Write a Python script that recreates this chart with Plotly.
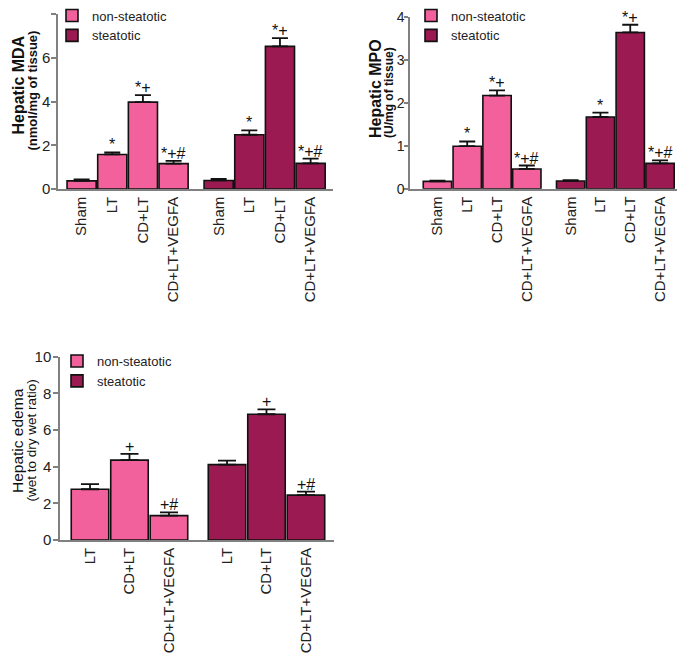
import plotly.graph_objects as go

# ---------------- data ----------------
groups4 = ["Sham", "LT", "CD+LT", "CD+LT+VEGFA"]
groups3 = ["LT", "CD+LT", "CD+LT+VEGFA"]
series_names = ["non-steatotic", "steatotic"]

mda_non = [0.37, 1.58, 3.97, 1.16]
mda_non_err = [0.07, 0.09, 0.32, 0.13]
mda_ste = [0.39, 2.48, 6.52, 1.17]
mda_ste_err = [0.07, 0.20, 0.38, 0.22]
mda_non_sig = ["", "*", "*+", "*+#"]
mda_ste_sig = ["", "*", "*+", "*+#"]
mda_title = ["Hepatic MDA", "(nmol/mg of tissue)"]

mpo_non = [0.17, 0.99, 2.17, 0.46]
mpo_non_err = [0.02, 0.11, 0.12, 0.08]
mpo_ste = [0.18, 1.67, 3.64, 0.59]
mpo_ste_err = [0.02, 0.10, 0.18, 0.07]
mpo_non_sig = ["", "*", "*+", "*+#"]
mpo_ste_sig = ["", "*", "*+", "*+#"]
mpo_title = ["Hepatic MPO", "(U/mg of tissue)"]

edema_non = [2.77, 4.36, 1.33]
edema_non_err = [0.28, 0.34, 0.18]
edema_ste = [4.11, 6.86, 2.45]
edema_ste_err = [0.22, 0.27, 0.19]
edema_non_sig = ["", "+", "+#"]
edema_ste_sig = ["", "+", "+#"]
edema_title = ["Hepatic edema", "(wet to dry wet ratio)"]

# ---------------- style ----------------
PINK = "#F2619B"
DARK = "#9C1A52"
AXIS = "#808080"
FONT = "Liberation Sans, Arial, sans-serif"
GROUP_GAP = 0.47
W, H = 677, 649

fig = go.Figure()


def positions(n, group):
    return [i + group * (n + GROUP_GAP) for i in range(n)]


def add_panel(idx, cats, non, non_err, ste, ste_err, non_sig, ste_sig, legend):
    xa = "x" if idx == 1 else f"x{idx}"
    ya = "y" if idx == 1 else f"y{idx}"
    n = len(cats)
    for g, (vals, errs, sig, color, name) in enumerate([
        (non, non_err, non_sig, PINK, series_names[0]),
        (ste, ste_err, ste_sig, DARK, series_names[1]),
    ]):
        xs = positions(n, g)
        fig.add_trace(go.Bar(
            x=xs, y=vals, width=0.95, name=name, legend=legend,
            xaxis=xa, yaxis=ya,
            marker=dict(color=color, line=dict(color="#111111", width=1.6)),
            error_y=dict(type="data", array=errs, arrayminus=[0] * n,
                         symmetric=False, color="#111111", thickness=1.8,
                         width=8 if n == 4 else 9),
        ))
        for x, v, e, s in zip(xs, vals, errs, sig):
            if s:
                fig.add_annotation(x=x, y=v + e, xref=xa, yref=ya, text=s,
                                   showarrow=False, yanchor="bottom", yshift=-3,
                                   font=dict(size=16, color="#111111", family=FONT))
    ticks = positions(n, 0) + positions(n, 1)
    return ticks, cats + cats


t1, l1 = add_panel(1, groups4, mda_non, mda_non_err, mda_ste, mda_ste_err,
                   mda_non_sig, mda_ste_sig, "legend")
t2, l2 = add_panel(2, groups4, mpo_non, mpo_non_err, mpo_ste, mpo_ste_err,
                   mpo_non_sig, mpo_ste_sig, "legend2")
t3, l3 = add_panel(3, groups3, edema_non, edema_non_err, edema_ste, edema_ste_err,
                   edema_non_sig, edema_ste_sig, "legend3")


def px_x(a, b):
    return [a / W, b / W]


def px_y(top, bottom):
    return [1 - bottom / H, 1 - top / H]


def xaxis(domain, ticks, labels, rng, anchor):
    return dict(domain=domain, anchor=anchor, range=rng, tickmode="array",
                tickvals=ticks, ticktext=labels, tickangle=-90, showline=True,
                linecolor=AXIS, linewidth=1.5, ticks="", showgrid=False,
                zeroline=False, tickfont=dict(size=15, color="#222222", family=FONT))


def yaxis(domain, rng, dtick, anchor, ticklen, standoff, size):
    return dict(domain=domain, anchor=anchor, range=rng, dtick=dtick,
                showline=True, linecolor=AXIS, linewidth=1.5, ticks="outside",
                ticklen=ticklen, tickwidth=1.5, tickcolor=AXIS, showgrid=False,
                ticklabelstandoff=standoff,
                zeroline=False, tickfont=dict(size=size, color="#222222", family=FONT))


def axis_title(lines, xs, ys, sizes, bold):
    for text, x, y, s in zip(lines, xs, ys, sizes):
        fig.add_annotation(xref="paper", yref="paper", x=x / W, y=1 - y / H,
                           text=f"<b>{text}</b>" if bold else text,
                           textangle=-90, showarrow=False,
                           xanchor="center", yanchor="middle",
                           font=dict(size=s, color="#111111", family=FONT))


fig.update_layout(
    width=W, height=H, margin=dict(l=0, r=0, t=0, b=0, autoexpand=False),
    paper_bgcolor="white", plot_bgcolor="white", barmode="overlay",
    font=dict(family=FONT, color="#111111"),
    xaxis=xaxis(px_x(50, 325), t1, l1, [-0.77, 8.2], "y"),
    yaxis=yaxis(px_y(6, 181), [0, 8], 2, "x", 5, -2, 15),
    xaxis2=xaxis(px_x(402, 675), t2, l2, [-0.92, 8.24], "y2"),
    yaxis2=yaxis(px_y(9, 180.7), [0, 4], 1, "x2", 4, -3, 14),
    xaxis3=xaxis(px_x(52, 326), t3, l3, [-0.76, 6.18], "y3"),
    yaxis3=yaxis(px_y(348.7, 532), [0, 10], 2, "x3", 5, -1, 15),
)

# y-axis titles (pixel positions relative to the figure)
axis_title(mda_title, [9.5, 23.5], [77, 83], [16, 13], True)
axis_title(mpo_title, [367.5, 381.5], [80.5, 84.5], [16, 12], True)
axis_title(edema_title, [9, 23], [433, 432.5], [15.5, 13.5], False)

legend_style = dict(font=dict(size=13, color="#222222", family=FONT),
                    bgcolor="rgba(0,0,0,0)", xanchor="left", yanchor="top",
                    tracegroupgap=0, itemclick=False)
fig.update_layout(
    legend=dict(x=44 / W, y=1 + 7.5 / H, **legend_style),
    legend2=dict(x=403 / W, y=1 + 7.5 / H, **legend_style),
    legend3=dict(x=49 / W, y=1 - 338 / H, **legend_style),
)

fig.write_html("out.html")
